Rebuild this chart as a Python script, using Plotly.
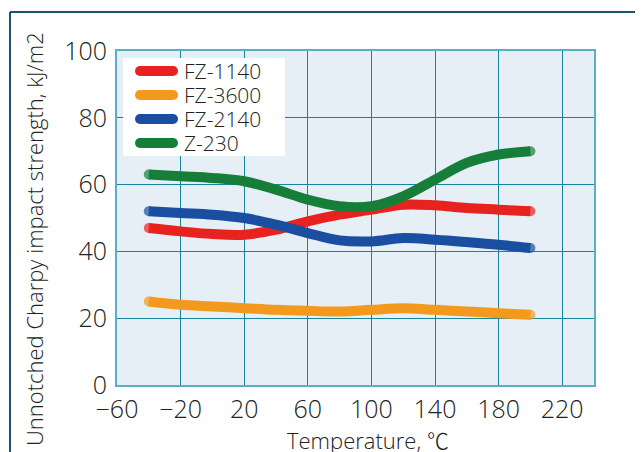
import plotly.graph_objects as go

temps = [-40, -20, 0, 20, 40, 60, 80, 100, 120, 140, 160, 180, 200]
fz1140 = [47, 46, 45.2, 45, 46.5, 49, 51, 52.5, 54, 53.8, 53, 52.5, 52]
fz3600 = [25, 24, 23.5, 23, 22.5, 22.2, 22, 22.5, 23, 22.5, 22, 21.5, 21]
fz2140 = [52, 51.5, 51, 50, 48, 45.5, 43.3, 43, 44, 43.5, 42.8, 42, 41]
z230 = [63, 62.5, 62, 61, 58.5, 55.5, 53.5, 53.5, 56.5, 61.5, 66.5, 69, 70]

series_names = ["FZ-1140", "FZ-3600", "FZ-2140", "Z-230"]
series_values = [fz1140, fz3600, fz2140, z230]
colors = ["#E8221E", "#F39A1E", "#1A4EA0", "#177E3A"]

x_tickvals = [-60, -20, 20, 60, 100, 140, 180, 220]
x_ticktext = ["\u221260", "\u221220", "20", "60", "100", "140", "180", "220"]
y_tickvals = [0, 20, 40, 60, 80, 100]

FONT = "Open Sans, Noto Sans CJK JP"
WEIGHT = 300
TXT = "#222222"

fig = go.Figure()
for name, vals, col in zip(series_names, series_values, colors):
    n = len(vals)
    sizes = [10] + [0] * (n - 2) + [10]
    fig.add_trace(go.Scatter(
        x=temps, y=vals, name=name, mode="lines+markers", showlegend=False,
        line=dict(color=col, width=10, shape="spline", smoothing=1.0),
        marker=dict(color=col, size=sizes, line=dict(width=0)),
    ))

# page body has an 8px margin; work in window pixels and subtract it
OFF = 8
W, H = 643 - OFF, 452 - OFF
PL, PR, PT, PB = 117, 594, 51, 385  # plot area in window pixels
L, R, T, B = PL - OFF, W - (PR - OFF), PT - OFF, H - (PB - OFF)
pw, ph = W - L - R, H - T - B

def px2x(p):
    return (p - OFF - L) / pw

def px2y(p):
    return (H - B - (p - OFF)) / ph

shapes = [
    dict(type="line", xref="paper", yref="paper",
         x0=px2x(10), x1=px2x(660), y0=px2y(12), y1=px2y(12),
         line=dict(color="#1B5470", width=2)),
    dict(type="line", xref="paper", yref="paper",
         x0=px2x(10), x1=px2x(10), y0=px2y(12), y1=px2y(470),
         line=dict(color="#1B5470", width=2)),
    # legend box
    dict(type="rect", xref="paper", yref="paper", layer="above",
         x0=px2x(123), x1=px2x(285), y0=px2y(58), y1=px2y(156),
         fillcolor="white", line=dict(width=0)),
]
annotations = [
    dict(text="Temperature, \u2103", xref="paper", yref="paper",
         x=px2x(368), y=px2y(440), xanchor="center", yanchor="middle",
         showarrow=False, font=dict(size=22, family=FONT, color=TXT, weight=WEIGHT)),
    dict(text="Unnotched Charpy impact strength, kJ/m2", xref="paper", yref="paper",
         x=px2x(34), y=px2y(239), xanchor="center", yanchor="middle",
         textangle=-90, showarrow=False,
         font=dict(size=22, family=FONT, color=TXT, weight=WEIGHT)),
]
row_y = [71, 95, 119, 143]
for name, col, ry in zip(series_names, colors, row_y):
    shapes.append(dict(type="line", xref="paper", yref="paper", layer="above",
                       x0=px2x(140), x1=px2x(173), y0=px2y(ry), y1=px2y(ry),
                       line=dict(color=col, width=10)))
    for cx in (140, 173):
        shapes.append(dict(type="circle", xref="paper", yref="paper", layer="above",
                           x0=px2x(cx - 5), x1=px2x(cx + 5),
                           y0=px2y(ry - 5), y1=px2y(ry + 5),
                           fillcolor=col, line=dict(width=0)))
    annotations.append(dict(text=name, xref="paper", yref="paper",
                            x=px2x(182), y=px2y(ry), xanchor="left", yanchor="middle",
                            showarrow=False,
                            font=dict(size=21, family=FONT, color=TXT, weight=WEIGHT)))

fig.update_layout(
    width=W, height=H,
    margin=dict(l=L, r=R, t=T, b=B, pad=0),
    paper_bgcolor="white",
    plot_bgcolor="#E6EFF5",
    font=dict(family=FONT, color=TXT, weight=WEIGHT),
    showlegend=False,
    xaxis=dict(
        range=[-60, 240], tickvals=x_tickvals, ticktext=x_ticktext,
        showgrid=True, gridcolor="#17869C", gridwidth=1,
        showline=True, linecolor="#5AAFC4", linewidth=2, mirror=True,
        zeroline=False, ticks="outside", ticklen=1, tickcolor="rgba(0,0,0,0)",
        tickfont=dict(size=25, family=FONT, color=TXT, weight=WEIGHT),
    ),
    yaxis=dict(
        range=[0, 100], tickvals=y_tickvals,
        showgrid=True, gridcolor="#17869C", gridwidth=1,
        showline=True, linecolor="#5AAFC4", linewidth=2, mirror=True,
        zeroline=False, ticks="outside", ticklen=3, tickcolor="rgba(0,0,0,0)",
        tickfont=dict(size=25, family=FONT, color=TXT, weight=WEIGHT),
    ),
    annotations=annotations,
    shapes=shapes,
)

fig.write_html("out.html")
